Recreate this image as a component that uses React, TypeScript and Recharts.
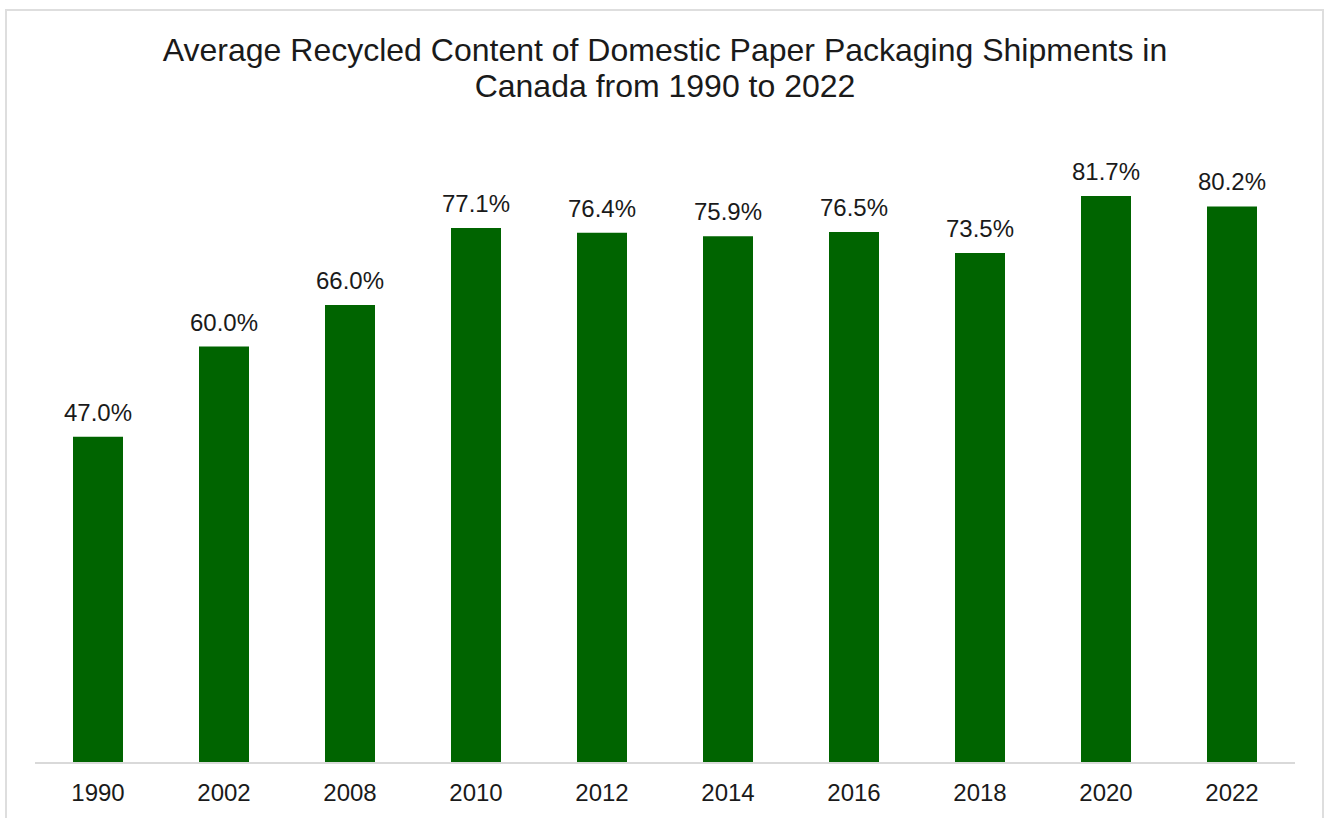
import * as React from "react"
import { Bar, BarChart, LabelList, XAxis, YAxis } from "recharts"

const years = ["1990", "2002", "2008", "2010", "2012", "2014", "2016", "2018", "2020", "2022"]
const recycledContent = [47.0, 60.0, 66.0, 77.1, 76.4, 75.9, 76.5, 73.5, 81.7, 80.2]

const FONT = '"Liberation Sans", Arial, Helvetica, sans-serif'

export default function App() {
  const data = React.useMemo(
    () => years.map((year, i) => ({ year, value: recycledContent[i] })),
    []
  )

  return (
    <div
      style={{
        position: "absolute",
        left: 0,
        top: 0,
        width: 1325,
        height: 818,
        overflow: "hidden",
        background: "#fff",
        fontFamily: FONT,
      }}
    >
      {/* chart frame, bottom edge runs off the page */}
      <div
        style={{
          position: "absolute",
          left: 5,
          top: 9,
          width: 1319,
          height: 840,
          border: "2px solid #dedede",
          boxSizing: "border-box",
        }}
      />

      <div
        style={{
          position: "absolute",
          left: 0,
          top: 32,
          width: 1330,
          textAlign: "center",
          fontSize: 32,
          lineHeight: "36px",
          color: "#1a1a1a",
        }}
      >
        Average Recycled Content of Domestic Paper Packaging Shipments in
        <br />
        Canada from 1990 to 2022
      </div>

      <div style={{ position: "absolute", left: 0, top: 0 }}>
        <BarChart
          width={1325}
          height={818}
          data={data}
          margin={{ top: 69, right: 30, bottom: 15, left: 35 }}
        >
          <XAxis
            dataKey="year"
            height={40}
            axisLine={{ stroke: "#d9d9d9", strokeWidth: 2 }}
            tickLine={false}
            tickSize={6}
            tickMargin={15}
            tick={{ fill: "#1a1a1a", fontSize: 24, fontFamily: FONT }}
            interval={0}
          />
          <YAxis hide domain={[0, 100]} />
          <Bar dataKey="value" fill="#006400" barSize={50} isAnimationActive={false}>
            <LabelList
              dataKey="value"
              position="top"
              offset={16}
              formatter={(v: unknown) => `${Number(v).toFixed(1)}%`}
              style={{ fill: "#1a1a1a", fontSize: 24, fontFamily: FONT }}
            />
          </Bar>
        </BarChart>
      </div>
    </div>
  )
}
